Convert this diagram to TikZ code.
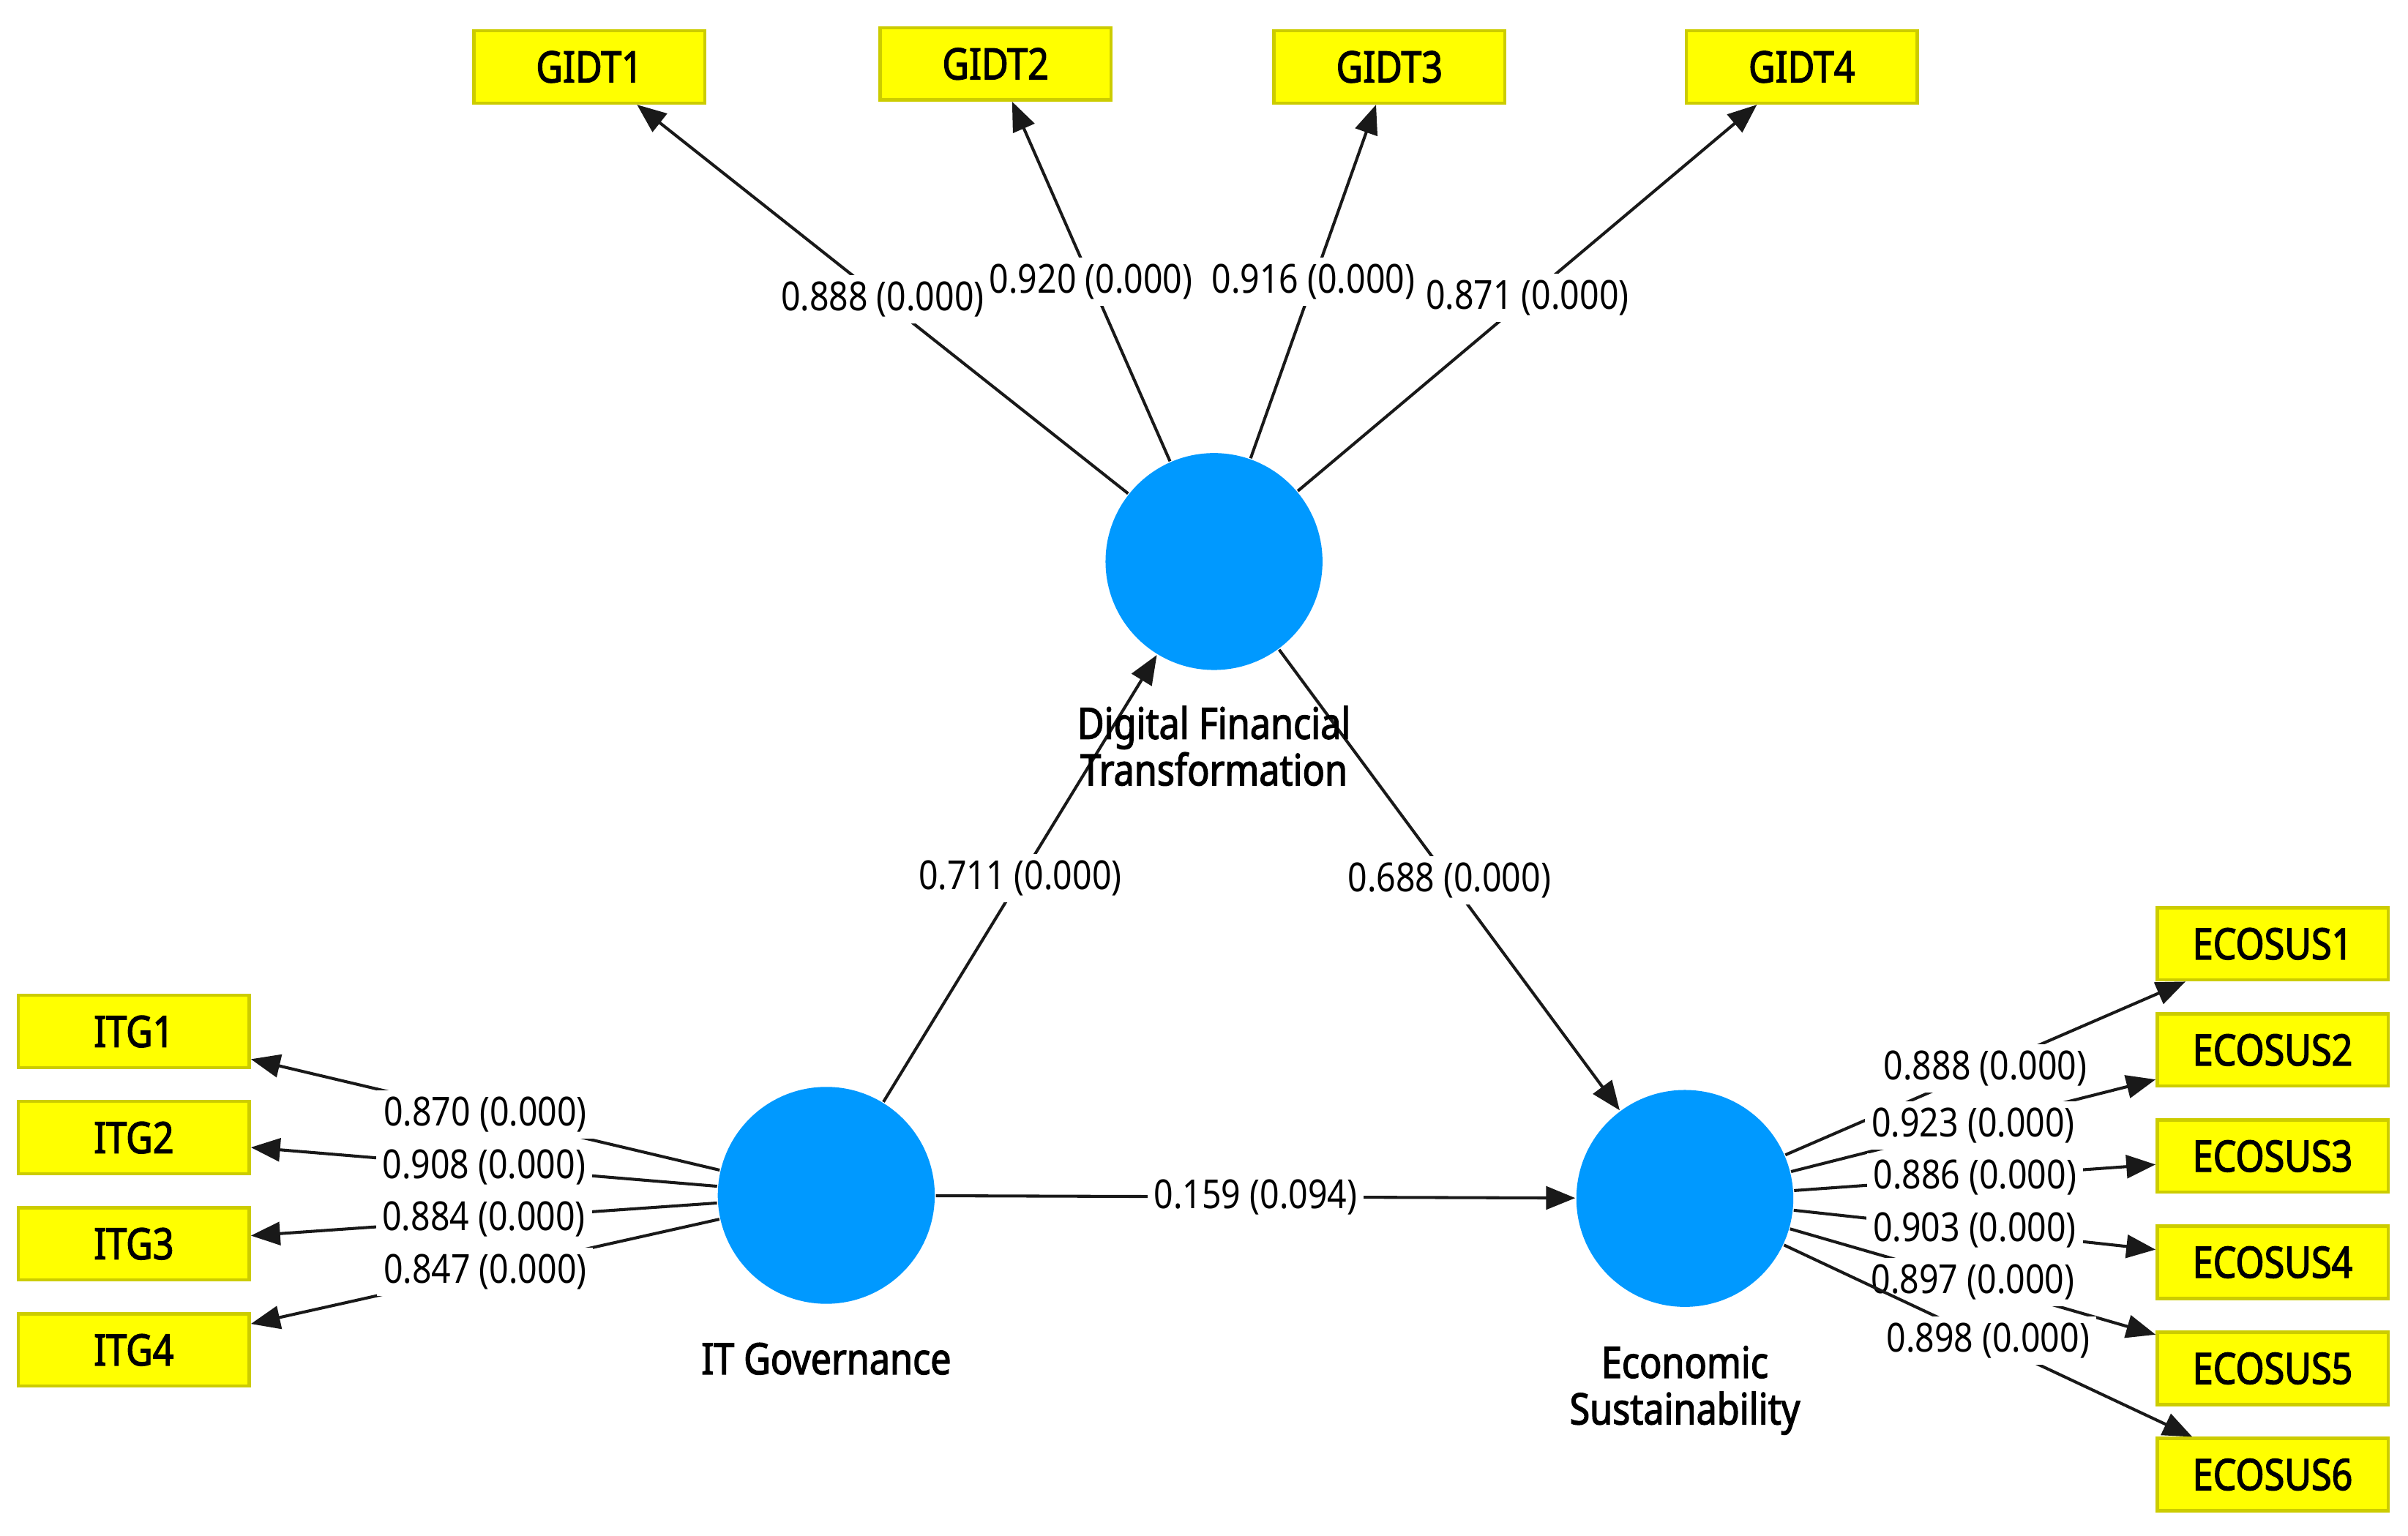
\documentclass[tikz,border=0pt]{standalone}
\usepackage{fontspec}
\setmainfont{Noto Sans}[FakeStretch=0.85,BoldFont={Noto Sans},BoldFeatures={FakeBold=2.2,FakeStretch=0.85}]
\usetikzlibrary{arrows.meta,positioning}
\definecolor{lvblue}{RGB}{0,153,255}
\definecolor{mvyellow}{RGB}{255,255,0}
\definecolor{mvedge}{RGB}{204,204,0}
\tikzset{
	mv/.style={draw=mvedge,line width=0.6pt,fill=mvyellow,minimum width=1.5cm,minimum height=0.47cm,inner sep=0pt,font=\fontsize{8}{9}\selectfont\bfseries},
	lv/.style={circle,fill=lvblue,minimum size=1.41cm,inner sep=0pt},
	lvname/.style={align=center,inner sep=0pt,font=\fontsize{8}{8.6}\selectfont\bfseries},
	coef/.style={fill=white,inner sep=1.2pt,font=\fontsize{7.4}{8}\selectfont},
	lnk/.style={draw=black!90,line width=0.55pt,-{Triangle[length=0.19cm,width=0.15cm]}}
}
\begin{document}
\begin{tikzpicture}
		\useasboundingbox (0,0) rectangle (15.65,-9.98);
		% latent variables
		\node[lv] (dft) at (7.89,-3.65) {};
		\node[lv] (itg) at (5.37,-7.77) {};
		\node[lv] (eco) at (10.95,-7.79) {};
		% indicators
		\foreach \n/\x/\y in {1/3.83/-0.435,2/6.47/-0.415,3/9.03/-0.435,4/11.71/-0.435}{
			\node[mv] (gidt\n) at (\x,\y) {GIDT\n};
		}
		\foreach \n/\y in {1/-6.705,2/-7.395,3/-8.085,4/-8.775}{
			\node[mv] (itg\n) at (0.87,\y) {ITG\n};
		}
		\foreach \n/\y in {1/-6.135,2/-6.825,3/-7.515,4/-8.205,5/-8.895,6/-9.585}{
			\node[mv] (ecosus\n) at (14.77,\y) {ECOSUS\n};
		}
		% outer loadings
		\foreach \n/\v in {1/0.888,2/0.920,3/0.916,4/0.871}{
			\draw[lnk] (dft) -- node[coef]{\v{} (0.000)} (gidt\n);
		}
		\foreach \n/\v in {1/0.870,2/0.908,3/0.884,4/0.847}{
			\draw[lnk] (itg) -- node[coef]{\v{} (0.000)} (itg\n);
		}
		\foreach \n/\v in {1/0.888,2/0.923,3/0.886,4/0.903,5/0.897,6/0.898}{
			\draw[lnk] (eco) -- node[coef]{\v{} (0.000)} (ecosus\n);
		}
		% path coefficients
		\draw[lnk] (itg) -- node[coef]{0.711 (0.000)} (dft);
		\draw[lnk] (dft) -- node[coef]{0.688 (0.000)} (eco);
		\draw[lnk] (itg) -- node[coef]{0.159 (0.094)} (eco);
		% names
		\node[lvname,below=0.22cm of dft] (dftname) {Digital Financial\\Transformation};
		\node[lvname,below=0.24cm of itg] (itgname) {IT Governance};
		\node[lvname,below=0.24cm of eco] (econame) {Economic\\Sustainability};
	\end{tikzpicture}
\end{document}
